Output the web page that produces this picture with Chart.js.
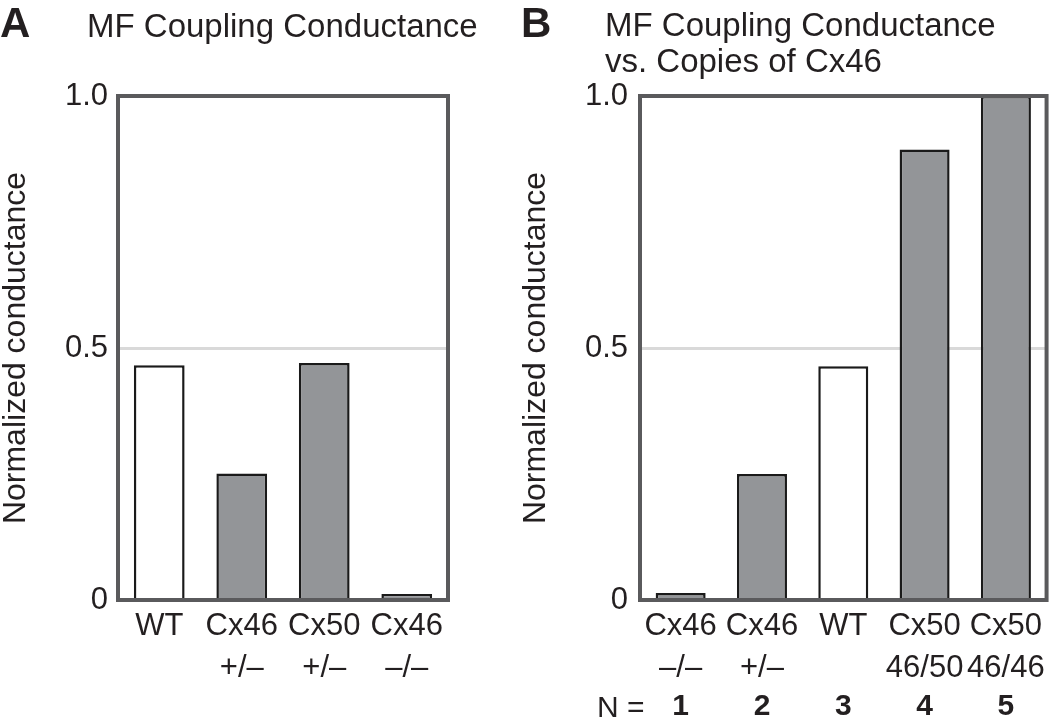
<!DOCTYPE html>
<html>
<head>
<meta charset="utf-8">
<script src="https://cdn.jsdelivr.net/npm/chart.js@4"></script>
<style>
  html, body { margin: 0; padding: 0; background: #ffffff; }
  #wrap { position: relative; width: 1050px; height: 719px; overflow: hidden; font-family: "Liberation Sans", Arial, sans-serif; color: #231f20; }
  canvas { position: absolute; top: 0; }
  .txt { position: absolute; white-space: nowrap; line-height: 1; }
</style>
</head>
<body>
<div id="wrap">
  <canvas id="chartA" width="520" height="719" style="left:0px"></canvas>
  <canvas id="chartB" width="530" height="719" style="left:520px"></canvas>
  <div class="txt" style="left:0px; top:2px; font-size:42px; font-weight:bold;">A</div>
  <div class="txt" style="left:87px; top:9px; font-size:33px;">MF Coupling Conductance</div>
  <div class="txt" style="left:521px; top:2px; font-size:42px; font-weight:bold;">B</div>
  <div class="txt" style="left:605px; top:7px; font-size:33px; line-height:36px;">MF Coupling Conductance<br>vs. Copies of Cx46</div>
  <div class="txt" style="left:597px; top:692px; font-size:30px;">N =</div>
</div>
<script>
// ---- Data ----
const categoriesA = [["WT"], ["Cx46", "+/–"], ["Cx50", "+/–"], ["Cx46", "–/–"]];
const valuesA = [0.466, 0.251, 0.470, 0.012];

const categoriesB = [["Cx46", "–/–"], ["Cx46", "+/–"], ["WT"], ["Cx50", "46/50"], ["Cx50", "46/46"]];
const valuesB = [0.014, 0.250, 0.464, 0.894, 1.0];
const copiesB = ["1", "2", "3", "4", "5"];

const yTickValues = [0, 0.5, 1];
const yTickLabels = ["0", "0.5", "1.0"];
const yTitle = "Normalized conductance";

// ---- Styling ----
const FONT = "'Liberation Sans', Arial, sans-serif";
const TEXT = "#231f20";
const GRAY_BAR = "#939598";
const FRAME = "#5a5a5c";

const framePlugin = {
  id: "frame",
  afterDatasetsDraw(chart) {
    const a = chart.chartArea, ctx = chart.ctx;
    ctx.save();
    ctx.strokeStyle = FRAME;
    ctx.lineWidth = 4;
    ctx.strokeRect(a.left, a.top, a.right - a.left, a.bottom - a.top);
    ctx.restore();
  }
};

function barColor(labels) {
  return ctx => (labels[ctx.dataIndex].join(" ") === "WT" ? "#ffffff" : GRAY_BAR);
}

function makeChart(id, labels, values, opts) {
  const scales = {
    x: {
      type: "category",
      position: "bottom",
      offset: true,
      grid: { display: false, drawTicks: false },
      border: { display: false },
      ticks: {
        color: TEXT, padding: 5, maxRotation: 0, autoSkip: false,
        font: { family: FONT, size: 31, lineHeight: 1.355 }
      },
      afterFit: s => { s.height = opts.xHeight; }
    },
    y: {
      type: "linear",
      position: "left",
      min: 0, max: 1,
      afterBuildTicks: s => { s.ticks = yTickValues.map(v => ({ value: v })); },
      grid: {
        drawTicks: false,
        color: c => (c.tick && c.tick.value === 0.5 ? "#d9d9d9" : "rgba(0,0,0,0)"),
        lineWidth: 3
      },
      border: { display: false },
      ticks: {
        color: TEXT, padding: opts.yPad,
        font: { family: FONT, size: 31 },
        callback: v => yTickLabels[yTickValues.indexOf(v)]
      },
      title: {
        display: true, text: yTitle, color: TEXT,
        font: { family: FONT, size: 32, lineHeight: 1 },
        padding: { top: 0, bottom: 0 }
      },
      afterFit: s => { s.width = opts.yWidth; }
    }
  };
  if (opts.nLabels) {
    scales.xN = {
      type: "category",
      position: "bottom",
      labels: opts.nLabels,
      offset: true,
      grid: { display: false, drawTicks: false },
      border: { display: false },
      ticks: {
        color: TEXT, padding: 4, maxRotation: 0, autoSkip: false,
        font: { family: FONT, size: 30, weight: "bold", lineHeight: 1.2 }
      },
      afterFit: s => { s.height = opts.nHeight; }
    };
  }
  return new Chart(document.getElementById(id), {
    type: "bar",
    data: {
      labels: labels,
      datasets: [{
        data: values,
        xAxisID: "x",
        yAxisID: "y",
        backgroundColor: barColor(labels),
        borderColor: "#1a1a1a",
        borderWidth: 2.5,
        barPercentage: 0.615,
        categoryPercentage: 1.0
      }]
    },
    options: {
      responsive: false,
      animation: false,
      layout: { padding: { top: 96, right: opts.rightPad, left: 0, bottom: 0 } },
      plugins: { legend: { display: false }, tooltip: { enabled: false }, title: { display: false } },
      scales: scales
    },
    plugins: [framePlugin]
  });
}

makeChart("chartA", categoriesA, valuesA, { xHeight: 119, yWidth: 118, yPad: 10, rightPad: 72 });
makeChart("chartB", categoriesB, valuesB, { xHeight: 85, nHeight: 34, nLabels: copiesB, yWidth: 120, yPad: 12, rightPad: 3 });
</script>
</body>
</html>
